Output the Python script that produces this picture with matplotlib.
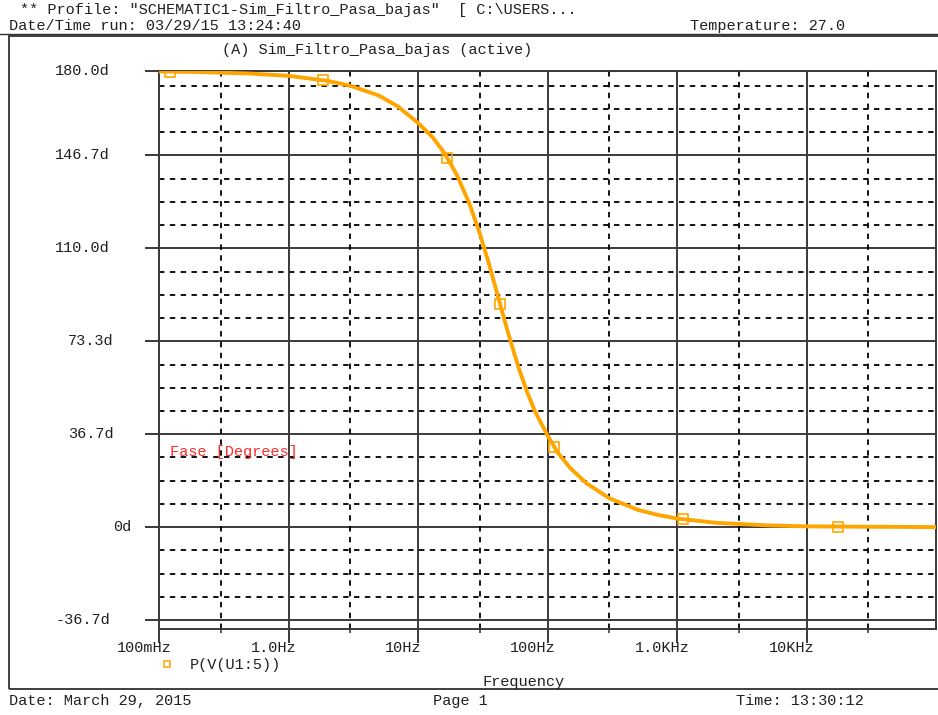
import numpy as np
import matplotlib
matplotlib.use("Agg")
import matplotlib.pyplot as plt
import matplotlib.transforms as mtransforms
from matplotlib.patches import Rectangle
from matplotlib.lines import Line2D

# phase of V(U1:5)
freq_hz = [0.1, 0.2, 0.5, 1, 2, 3, 5, 7, 10, 13, 16, 20, 25, 30, 35, 40, 45,
           50, 60, 70, 80, 100, 120, 150, 200, 300, 500, 700, 1000, 2000,
           5000, 10000, 20000, 50000, 100000]
phase_deg = [179.8, 179.6, 179.0, 178.1, 176.1, 174.2, 170.3, 166.0, 159.5,
             153.8, 147.6, 138.9, 127.5, 115.9, 104.6, 93.9, 84.4, 76.1, 62.7,
             53.0, 45.7, 36.2, 29.4, 23.3, 17.3, 11.4, 6.8, 4.9, 3.4, 1.7,
             0.7, 0.3, 0.2, 0.1, 0.0]

# trace markers
mark_hz = [0.122, 1.85, 16.7, 43, 112, 1110, 17500]
mark_deg = [179.6, 176.3, 145.5, 88.0, 31.5, 3.2, 0.2]

xticks = [0.1, 1, 10, 100, 1000, 10000]
xlabels = ["100mHz", "1.0Hz", "10Hz", "100Hz", "1.0KHz", "10KHz"]
xminor = [0.3, 3, 30, 300, 3000, 30000]
yticks = [-36.667, 0, 36.667, 73.333, 110.0, 146.667, 180.0]
ylabels = ["-36.7d", "0d", "36.7d", "73.3d", "110.0d", "146.7d", "180.0d"]
ylabel_left_px = [55, 113, 68, 68, 55, 55, 55]

FONT = "Liberation Mono"
TXT = "#202020"
ORANGE = "#ffa500"
GRID = "#3a3a3a"

plt.rcParams["font.family"] = [FONT, "DejaVu Sans Mono"]
plt.rcParams["font.size"] = 11

fig = plt.figure(figsize=(9.38, 7.15), dpi=100)
W, H = 938, 715

def fx(px):
    return px / W

def fy(py):
    return 1 - py / H

ax = fig.add_axes([fx(159), fy(629), fx(936) - fx(159), fy(71) - fy(629)])
ax.set_xscale("log")
ax.set_xlim(0.1, 100000)
ax.set_ylim(-40.2, 180)

# grid
yminor = [v for v in np.arange(-36.667, 180, 36.667 / 4) if min(abs(v - t) for t in yticks) > 1]
for v in yticks:
    ax.axhline(v, color=GRID, lw=1.4, zorder=1)
for v in yminor:
    ax.axhline(v, color="black", lw=1.3, ls=(0, (3, 3)), zorder=1)
for v in xticks:
    ax.axvline(v, color=GRID, lw=1.4, zorder=1)
for v in xminor:
    ax.axvline(v, color="black", lw=1.3, ls=(0, (3, 3)), zorder=1)

ax.plot(freq_hz, phase_deg, color=ORANGE, lw=2.8, zorder=3, solid_capstyle="butt")
ax.plot(mark_hz, mark_deg, ls="none", marker="s", ms=7, mfc="none",
        mec=ORANGE, mew=1.2, zorder=4)

for s in ax.spines.values():
    s.set_color(GRID)
    s.set_linewidth(1.4)

ax.set_xticks(xticks)
ax.set_xticklabels(xlabels, fontsize=11, color=TXT)
ax.set_xticks(xminor, minor=True)
ax.set_xticklabels([], minor=True)
ax.tick_params(axis="x", which="major", length=10, width=1.4, color=GRID, pad=-1)
ax.tick_params(axis="x", which="minor", length=3, width=1.2, color=GRID)
shift = mtransforms.ScaledTranslation(-15 / 100, 0, fig.dpi_scale_trans)
for lab in ax.get_xticklabels():
    lab.set_transform(lab.get_transform() + shift)

ax.set_yticks(yticks)
ax.set_yticklabels([])
ax.set_yticks([], minor=True)
ax.tick_params(axis="y", which="major", length=10, width=1.4, color=GRID)
ylab_tr = mtransforms.blended_transform_factory(fig.transFigure, ax.transData)
for v, lab, left in zip(yticks, ylabels, ylabel_left_px):
    ax.text(fx(left), v, lab, transform=ylab_tr, fontsize=11, color=TXT,
            ha="left", va="center", clip_on=False)

ax.text(0.014, 0.318, "Fase [Degrees]", transform=ax.transAxes, color="#ff2a2a",
        fontsize=11, va="center", ha="left")

# page frame and texts
fig.add_artist(Rectangle((fx(9), fy(689)), fx(945) - fx(9), fy(36) - fy(689),
                         transform=fig.transFigure, fill=False, ec="#303030", lw=1.3))
fig.add_artist(Line2D([fx(0), 1], [fy(34), fy(34)], transform=fig.transFigure,
                      color="#303030", lw=1.0))

fig.text(fx(20), fy(10), '** Profile: "SCHEMATIC1-Sim_Filtro_Pasa_bajas"  [ C:\\USERS...',
         fontsize=11, color=TXT, va="center")
fig.text(fx(9), fy(26), "Date/Time run: 03/29/15 13:24:40", fontsize=11, color=TXT, va="center")
fig.text(fx(690), fy(26), "Temperature: 27.0", fontsize=11, color=TXT, va="center")
fig.text(fx(222), fy(50), "(A) Sim_Filtro_Pasa_bajas (active)", fontsize=11, color=TXT, va="center")

fig.add_artist(Line2D([fx(167)], [fy(664)], transform=fig.transFigure, ls="none",
                      marker="s", ms=5, mfc="none", mec=ORANGE, mew=1.1))
fig.text(fx(190), fy(665), "P(V(U1:5))", fontsize=11, color=TXT, va="center")
fig.text(fx(524), fy(682), "Frequency", fontsize=11, color=TXT, va="center", ha="center")

fig.text(fx(9), fy(701), "Date: March 29, 2015", fontsize=11, color=TXT, va="center")
fig.text(fx(433), fy(701), "Page 1", fontsize=11, color=TXT, va="center")
fig.text(fx(736), fy(701), "Time: 13:30:12", fontsize=11, color=TXT, va="center")

fig.savefig("out.png", dpi=100, facecolor="white")
